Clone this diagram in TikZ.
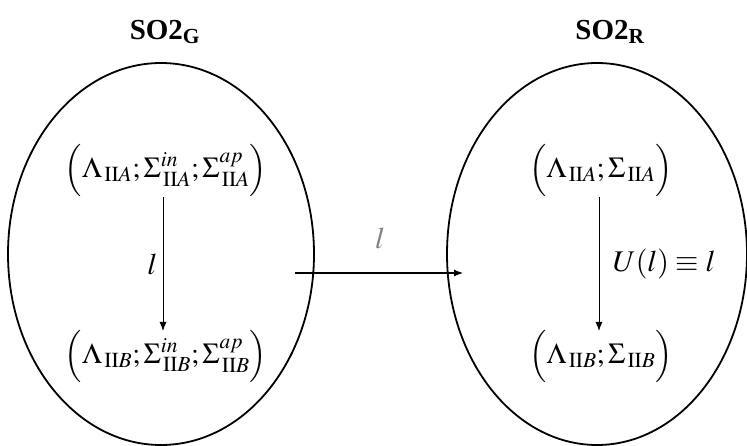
\documentclass[tikz,border=0pt]{standalone}
\usepackage{mathptmx}
\usepackage{fontspec}
\setmainfont{Liberation Serif}
\usetikzlibrary{shapes.geometric,arrows.meta}
\newcommand{\sub}[1]{_{\,\mathrm{II}#1}}
\begin{document}
\begin{tikzpicture}[x=1pt,y=-1pt,
  set/.style={draw,ellipse,line width=1.8pt,inner sep=0pt},
  title/.style={font=\fontsize{29}{33}\selectfont\bfseries},
  tuple/.style={font=\fontsize{29}{33}\selectfont,inner sep=1pt},
  lab/.style={font=\fontsize{30}{33}\selectfont},
  map/.style={line width=1pt,-{Latex[length=9pt,width=7pt]}}]
\useasboundingbox (0,0) rectangle (747,446);
\fill[white] (0,0) rectangle (747,446);
\node[set,minimum width=306pt,minimum height=382pt] (EG) at (161,254) {};
\node[set,minimum width=300pt,minimum height=382pt] (ER) at (597,254) {};
\node[title] (TG) at (165,32) {SO2\textsubscript{G}};
\node[title] (TR) at (610,32) {SO2\textsubscript{R}};
\node[tuple] (GA) at (166,170) {$\Bigl(\Lambda\sub{A};\Sigma^{in}\sub{A};\Sigma^{ap}\sub{A}\Bigr)$};
\node[tuple] (GB) at (166,356) {$\Bigl(\Lambda\sub{B};\Sigma^{in}\sub{B};\Sigma^{ap}\sub{B}\Bigr)$};
\node[tuple] (RA) at (601,170) {$\Bigl(\Lambda\sub{A};\Sigma\sub{A}\Bigr)$};
\node[tuple] (RB) at (601,356) {$\Bigl(\Lambda\sub{B};\Sigma\sub{B}\Bigr)$};
\coordinate (g1) at (163,197);
\coordinate (g2) at (163,331);
\coordinate (r1) at (599,197);
\coordinate (r2) at (599,331);
\draw[map] (g1) -- (g2) node[midway,left,lab,xshift=-2pt] {$l$};
\draw[map] (r1) -- (r2) node[midway,right,lab,xshift=10pt] {$U(l)\equiv l$};
\coordinate (m1) at (295,273);
\coordinate (m2) at (463,273);
\draw[map,line width=1.1pt] (m1) -- (m2);
\node[lab,text=gray] (ml) at (380,238) {$l$};
\end{tikzpicture}
\end{document}
